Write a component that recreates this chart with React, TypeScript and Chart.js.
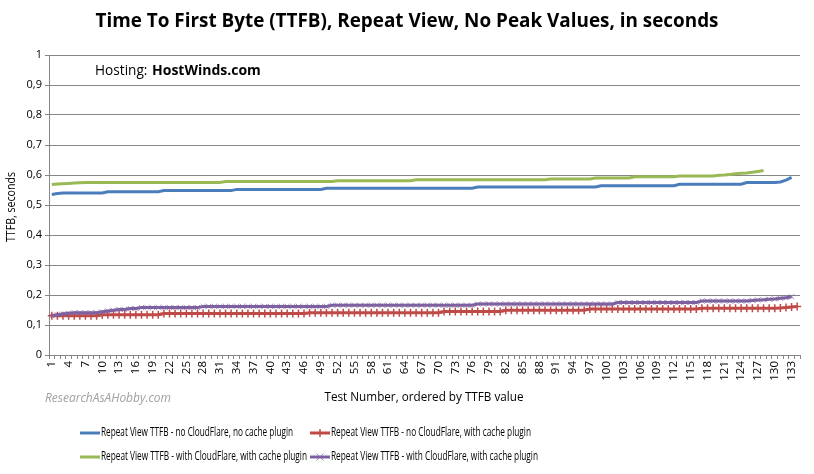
import React, { useEffect, useRef } from "react";
import { Chart, registerables } from "chart.js";

Chart.register(...registerables);

const categories: string[] = Array.from({ length: 134 }, (_, i) => String(i + 1));

const noCfNoCache: number[] = [
  0.535, 0.538, 0.54, 0.54, 0.54, 0.54, 0.54, 0.54, 0.54, 0.54,
  0.544, 0.544, 0.544, 0.544, 0.544, 0.544, 0.544, 0.544, 0.544, 0.544,
  0.548, 0.548, 0.548, 0.548, 0.548, 0.548, 0.548, 0.548, 0.548, 0.548,
  0.548, 0.548, 0.548, 0.552, 0.552, 0.552, 0.552, 0.552, 0.552, 0.552,
  0.552, 0.552, 0.552, 0.552, 0.552, 0.552, 0.552, 0.552, 0.552, 0.556,
  0.556, 0.556, 0.556, 0.556, 0.556, 0.556, 0.556, 0.556, 0.556, 0.556,
  0.556, 0.556, 0.556, 0.556, 0.556, 0.556, 0.556, 0.556, 0.556, 0.556,
  0.556, 0.556, 0.556, 0.556, 0.556, 0.556, 0.56, 0.56, 0.56, 0.56,
  0.56, 0.56, 0.56, 0.56, 0.56, 0.56, 0.56, 0.56, 0.56, 0.56,
  0.56, 0.56, 0.56, 0.56, 0.56, 0.56, 0.56, 0.56, 0.564, 0.564,
  0.564, 0.564, 0.564, 0.564, 0.564, 0.564, 0.564, 0.564, 0.564, 0.564,
  0.564, 0.564, 0.569, 0.569, 0.569, 0.569, 0.569, 0.569, 0.569, 0.569,
  0.569, 0.569, 0.569, 0.569, 0.575, 0.575, 0.575, 0.575, 0.575, 0.575,
  0.577, 0.583, 0.592,
];

const noCfWithCache: number[] = [
  0.131, 0.131, 0.131, 0.131, 0.131, 0.131, 0.131, 0.131, 0.131, 0.134,
  0.134, 0.134, 0.134, 0.134, 0.134, 0.134, 0.134, 0.134, 0.134, 0.134,
  0.138, 0.138, 0.138, 0.138, 0.138, 0.138, 0.138, 0.138, 0.138, 0.138,
  0.138, 0.138, 0.138, 0.138, 0.138, 0.138, 0.138, 0.138, 0.138, 0.138,
  0.138, 0.138, 0.138, 0.138, 0.138, 0.138, 0.141, 0.141, 0.141, 0.141,
  0.141, 0.141, 0.141, 0.141, 0.141, 0.141, 0.141, 0.141, 0.141, 0.141,
  0.141, 0.141, 0.141, 0.141, 0.141, 0.141, 0.141, 0.141, 0.141, 0.141,
  0.145, 0.145, 0.145, 0.145, 0.145, 0.145, 0.145, 0.145, 0.145, 0.145,
  0.145, 0.149, 0.149, 0.149, 0.149, 0.149, 0.149, 0.149, 0.149, 0.149,
  0.149, 0.149, 0.149, 0.149, 0.149, 0.149, 0.153, 0.153, 0.153, 0.153,
  0.153, 0.153, 0.153, 0.153, 0.153, 0.153, 0.153, 0.153, 0.153, 0.153,
  0.153, 0.153, 0.153, 0.153, 0.153, 0.153, 0.156, 0.156, 0.156, 0.156,
  0.156, 0.156, 0.156, 0.156, 0.156, 0.156, 0.156, 0.156, 0.156, 0.156,
  0.157, 0.158, 0.16, 0.162,
];

const cfWithCacheA: number[] = [
  0.568, 0.57, 0.571, 0.572, 0.573, 0.574, 0.575, 0.575, 0.575, 0.575,
  0.575, 0.575, 0.575, 0.575, 0.575, 0.575, 0.575, 0.575, 0.575, 0.575,
  0.575, 0.575, 0.575, 0.575, 0.575, 0.575, 0.575, 0.575, 0.575, 0.575,
  0.575, 0.578, 0.578, 0.578, 0.578, 0.578, 0.578, 0.578, 0.578, 0.578,
  0.578, 0.578, 0.578, 0.578, 0.578, 0.578, 0.578, 0.578, 0.578, 0.578,
  0.578, 0.581, 0.581, 0.581, 0.581, 0.581, 0.581, 0.581, 0.581, 0.581,
  0.581, 0.581, 0.581, 0.581, 0.581, 0.584, 0.584, 0.584, 0.584, 0.584,
  0.584, 0.584, 0.584, 0.584, 0.584, 0.584, 0.584, 0.584, 0.584, 0.584,
  0.584, 0.584, 0.584, 0.584, 0.584, 0.584, 0.584, 0.584, 0.584, 0.587,
  0.587, 0.587, 0.587, 0.587, 0.587, 0.587, 0.587, 0.59, 0.59, 0.59,
  0.59, 0.59, 0.59, 0.59, 0.594, 0.594, 0.594, 0.594, 0.594, 0.594,
  0.594, 0.594, 0.597, 0.597, 0.597, 0.597, 0.597, 0.597, 0.597, 0.599,
  0.6, 0.602, 0.604, 0.606, 0.607, 0.609, 0.612, 0.615,
];

const cfWithCacheB: number[] = [
  0.131, 0.134, 0.137, 0.139, 0.141, 0.141, 0.141, 0.141, 0.141, 0.144,
  0.147, 0.149, 0.152, 0.152, 0.155, 0.155, 0.158, 0.158, 0.158, 0.158,
  0.158, 0.158, 0.158, 0.158, 0.158, 0.158, 0.158, 0.162, 0.162, 0.162,
  0.162, 0.162, 0.162, 0.162, 0.162, 0.162, 0.162, 0.162, 0.162, 0.162,
  0.162, 0.162, 0.162, 0.162, 0.162, 0.162, 0.162, 0.162, 0.162, 0.162,
  0.166, 0.166, 0.166, 0.166, 0.166, 0.166, 0.166, 0.166, 0.166, 0.166,
  0.166, 0.166, 0.166, 0.166, 0.166, 0.166, 0.166, 0.166, 0.166, 0.166,
  0.166, 0.166, 0.166, 0.166, 0.166, 0.166, 0.17, 0.17, 0.17, 0.17,
  0.17, 0.17, 0.17, 0.17, 0.17, 0.17, 0.17, 0.17, 0.17, 0.17,
  0.17, 0.17, 0.17, 0.17, 0.17, 0.17, 0.17, 0.17, 0.17, 0.17,
  0.17, 0.175, 0.175, 0.175, 0.175, 0.175, 0.175, 0.175, 0.175, 0.175,
  0.175, 0.175, 0.175, 0.175, 0.175, 0.175, 0.18, 0.18, 0.18, 0.18,
  0.18, 0.18, 0.18, 0.18, 0.18, 0.182, 0.183, 0.184, 0.186, 0.187,
  0.189, 0.191, 0.194,
];

const seriesLabels: string[] = [
  "Repeat View TTFB - no CloudFlare, no cache plugin",
  "Repeat View TTFB - no CloudFlare, with cache plugin",
  "Repeat View TTFB - with CloudFlare, with cache plugin",
  "Repeat View TTFB - with CloudFlare, with cache plugin",
];

const yTickValues: number[] = [0, 0.1, 0.2, 0.3, 0.4, 0.5, 0.6, 0.7, 0.8, 0.9, 1];

const chartTitle = "Time To First Byte (TTFB), Repeat View, No Peak Values, in seconds";
const hostingLabel = "Hosting: ";
const hostingName = "HostWinds.com";
const xTitle = "Test Number, ordered by TTFB value";
const yTitle = "TTFB, seconds";
const watermark = "ResearchAsAHobby.com";

const FONT = '"Open Sans", "Liberation Sans", sans-serif';
const BLUE = "#4A7EBB";
const RED = "#BE4B48";
const GREEN = "#98B954";
const PURPLE = "#7D60A0";
const PURPLE_MARK = "rgba(128,100,162,0.75)";
const GRID = "#868686";

function txt(
  ctx: CanvasRenderingContext2D,
  s: string,
  x: number,
  y: number,
  font: string,
  color: string,
  align: CanvasTextAlign,
  maxW?: number
) {
  ctx.save();
  ctx.font = font;
  ctx.fillStyle = color;
  ctx.textAlign = align;
  ctx.textBaseline = "middle";
  if (maxW) ctx.fillText(s, x, y, maxW);
  else ctx.fillText(s, x, y);
  ctx.restore();
}

export default function App() {
  const ref = useRef<HTMLCanvasElement | null>(null);

  useEffect(() => {
    const canvas = ref.current;
    if (!canvas) return;

    const overlay = {
      id: "overlay",
      afterDraw(chart: any) {
        const ctx: CanvasRenderingContext2D = chart.ctx;
        txt(ctx, chartTitle, 407, 22, `bold 19px ${FONT}`, "#000", "center", 623);
        txt(ctx, hostingLabel, 95, 71, `14px ${FONT}`, "#000", "left", 56);
        txt(ctx, hostingName, 152, 71, `bold 14px ${FONT}`, "#000", "left", 111);
        ctx.save();
        ctx.translate(12, 207);
        ctx.rotate(-Math.PI / 2);
        txt(ctx, yTitle, 0, 0, `12px ${FONT}`, "#000", "center", 70);
        ctx.restore();
        txt(ctx, xTitle, 424, 397, `12.5px ${FONT}`, "#000", "center", 199);
        txt(ctx, watermark, 45, 398, `italic 13px ${FONT}`, "#a0a0a0", "left", 126);

        const items = [
          { i: 0, x: 80, y: 433, color: BLUE, mark: "" },
          { i: 1, x: 310, y: 433, color: RED, mark: "cross" },
          { i: 2, x: 80, y: 457, color: GREEN, mark: "" },
          { i: 3, x: 310, y: 457, color: PURPLE, mark: "crossRot" },
        ];
        const widths = [192, 200, 206, 207];
        items.forEach((it) => {
          ctx.save();
          ctx.strokeStyle = it.color;
          ctx.lineWidth = 3;
          ctx.beginPath();
          ctx.moveTo(it.x, it.y);
          ctx.lineTo(it.x + 20, it.y);
          ctx.stroke();
          const cx = it.x + 10;
          if (it.mark === "cross") {
            ctx.lineWidth = 1.5;
            ctx.beginPath();
            ctx.moveTo(cx, it.y - 4);
            ctx.lineTo(cx, it.y + 4);
            ctx.moveTo(cx - 4, it.y);
            ctx.lineTo(cx + 4, it.y);
            ctx.stroke();
          } else if (it.mark === "crossRot") {
            ctx.strokeStyle = PURPLE_MARK;
            ctx.lineWidth = 1;
            ctx.beginPath();
            ctx.moveTo(cx - 3.5, it.y - 3.5);
            ctx.lineTo(cx + 3.5, it.y + 3.5);
            ctx.moveTo(cx - 3.5, it.y + 3.5);
            ctx.lineTo(cx + 3.5, it.y - 3.5);
            ctx.stroke();
          }
          ctx.restore();
          txt(ctx, seriesLabels[it.i], it.x + 21, it.y, `12px ${FONT}`, "#000", "left", widths[it.i]);
        });
      },
    };

    const chart = new Chart(canvas, {
      type: "line",
      data: {
        labels: categories,
        datasets: [
          {
            label: seriesLabels[0],
            data: noCfNoCache,
            borderColor: BLUE,
            backgroundColor: BLUE,
            borderWidth: 3,
            pointRadius: 0,
            tension: 0,
            order: 4,
          },
          {
            label: seriesLabels[1],
            data: noCfWithCache,
            borderColor: RED,
            backgroundColor: RED,
            borderWidth: 3,
            pointStyle: "cross",
            pointRadius: 4,
            pointBorderColor: RED,
            pointBorderWidth: 1.5,
            tension: 0,
            order: 3,
          },
          {
            label: seriesLabels[2],
            data: cfWithCacheA,
            borderColor: GREEN,
            backgroundColor: GREEN,
            borderWidth: 3,
            pointRadius: 0,
            tension: 0,
            order: 2,
          },
          {
            label: seriesLabels[3],
            data: cfWithCacheB,
            borderColor: PURPLE,
            backgroundColor: PURPLE,
            borderWidth: 3,
            pointStyle: "crossRot",
            pointRadius: 3.5,
            pointBorderColor: PURPLE_MARK,
            pointBorderWidth: 1,
            tension: 0,
            order: 1,
          },
        ],
      },
      options: {
        responsive: false,
        animation: false,
        devicePixelRatio: 1,
        events: [],
        layout: { padding: { left: 0, right: 14, top: 55, bottom: 0 } },
        plugins: {
          legend: { display: false },
          title: { display: false },
          tooltip: { enabled: false },
        },
        scales: {
          x: {
            type: "category",
            offset: true,
            grid: {
              display: true,
              drawOnChartArea: false,
              drawTicks: true,
              tickLength: 4,
              color: GRID,
              offset: true,
            },
            border: { display: true, color: GRID, width: 1 },
            ticks: {
              autoSkip: false,
              minRotation: 90,
              maxRotation: 90,
              padding: 2,
              color: "#000",
              font: { family: FONT, size: 11.5 },
              callback: (_v: any, i: number) => (i % 3 === 0 ? categories[i] : ""),
            },
            afterFit: (s: any) => {
              s.height = 119;
            },
          },
          y: {
            min: 0,
            max: 1,
            afterBuildTicks: (s: any) => {
              s.ticks = yTickValues.map((v) => ({ value: v }));
            },
            grid: { color: GRID, lineWidth: 1, tickLength: 4 },
            border: { display: true, color: GRID, width: 1 },
            ticks: {
              padding: 3,
              color: "#000",
              font: { family: FONT, size: 11 },
              callback: (v: any) => {
                const n = Number(v);
                if (n === 0) return "0";
                if (n === 1) return "1";
                return n.toFixed(1).replace(".", ",");
              },
            },
            afterFit: (s: any) => {
              s.width = 49;
            },
          },
        },
      },
      plugins: [overlay],
    });

    return () => chart.destroy();
  }, []);

  return (
    <div
      style={{
        position: "fixed",
        left: 0,
        top: 0,
        width: 814,
        height: 474,
        background: "#fff",
      }}
    >
      <canvas ref={ref} width={814} height={474} style={{ display: "block" }} />
    </div>
  );
}
